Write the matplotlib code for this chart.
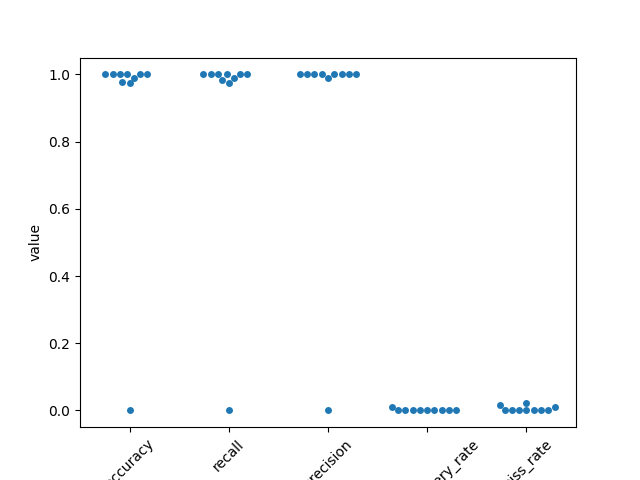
import matplotlib
matplotlib.use("Agg")
import matplotlib.pyplot as plt
import seaborn as sns
import pandas as pd

accuracy = [1, 1, 1, 1, 1, 1, 0.977, 0.973, 0.99, 0.0]
recall = [1, 1, 1, 1, 1, 1, 0.983, 0.975, 0.99, 0.0]
precision = [1, 1, 1, 1, 1, 1, 1, 1, 0.99, 0.0]
false_discovery_rate = [0.01, 0, 0, 0, 0, 0, 0, 0, 0, 0]
miss_rate = [0.015, 0.01, 0.022, 0, 0, 0, 0, 0, 0, 0]

metrics = ["accuracy", "recall", "precision", "false_discovery_rate", "miss_rate"]
vals = [accuracy, recall, precision, false_discovery_rate, miss_rate]
df = pd.DataFrame({"variable": [m for m, v in zip(metrics, vals) for _ in v],
                   "value": [x for v in vals for x in v]})

fig, ax = plt.subplots(figsize=(6.4, 4.8), dpi=100)
sns.swarmplot(data=df, x="variable", y="value", ax=ax)
ax.set_xlabel("")
plt.xticks(rotation=45)
fig.savefig("out.png")
